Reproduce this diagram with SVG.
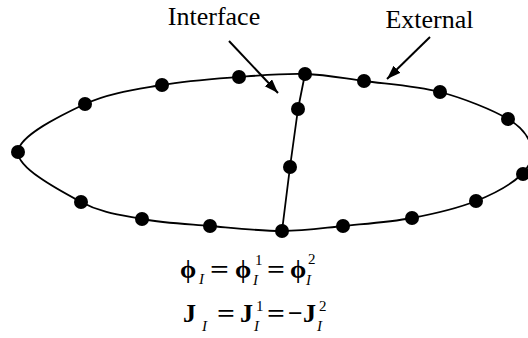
<svg xmlns="http://www.w3.org/2000/svg" width="528" height="338" viewBox="0 0 528 338">
<style>
.line{fill:none;stroke:#000;stroke-width:1.8;stroke-linejoin:round}
.arr{fill:none;stroke:#000;stroke-width:2}
.dot{fill:#000}
.lbl{font-family:"Liberation Serif","Times New Roman",serif;font-size:26px;fill:#000}
.eq{font-family:"Liberation Serif","DejaVu Serif",serif;font-size:26px;font-weight:bold;fill:#000}
.ph{font-size:26px}
.sm{font-size:15px;font-weight:normal}
.it{font-style:italic}
</style>
<defs>
<marker id="ah" markerUnits="userSpaceOnUse" markerWidth="16" markerHeight="12" refX="14" refY="5" orient="auto">
<path d="M0,0 L14,5 L0,10 Z" fill="#000"/>
</marker>
</defs>
<rect width="528" height="338" fill="#fff"/>
<g id="connectors">
<path id="boundary" class="line" d="M18,152 C18.7,135.7 61,115.2 85,104 C109,92.8 136.3,89.5 162,85 C187.7,80.5 215.2,78.8 239,77 C262.8,75.2 284.2,73.3 305,74 C325.8,74.7 341.5,78 364,81 C386.5,84 416,85.7 440,92 C464,98.3 492.8,110 508,119 C523.2,128 528.7,136.8 531,146 C533.3,155.2 531.2,164.8 522,174 C512.8,183.2 494.3,193.7 476,201 C457.7,208.3 434.2,213.8 412,218 C389.8,222.2 364.7,223.8 343,226 C321.3,228.2 304.2,231 282,231 C259.8,231 233.3,228 210,226 C186.7,224 163.5,223 142,219 C120.5,215 101.7,213.2 81,202 C60.3,190.8 17.3,168.3 18,152 Z"/>
<polyline id="interface" class="line" points="305,74 298,109 290,167 282,231"/>
<line class="arr" x1="229" y1="41" x2="278" y2="93" marker-end="url(#ah)"/>
<line class="arr" x1="430" y1="37" x2="387" y2="79" marker-end="url(#ah)"/>
</g>
<g id="nodes">
<circle id="n0" class="dot" cx="18" cy="152" r="7"/>
<circle id="n1" class="dot" cx="85" cy="104" r="7"/>
<circle id="n2" class="dot" cx="162" cy="85" r="7"/>
<circle id="n3" class="dot" cx="239" cy="77" r="7"/>
<circle id="n4" class="dot" cx="305" cy="74" r="7"/>
<circle id="n5" class="dot" cx="364" cy="81" r="7"/>
<circle id="n6" class="dot" cx="440" cy="92" r="7"/>
<circle id="n7" class="dot" cx="508" cy="119" r="7"/>
<circle id="n8" class="dot" cx="523" cy="174" r="7"/>
<circle id="n9" class="dot" cx="476" cy="201" r="7"/>
<circle id="n10" class="dot" cx="412" cy="218" r="7"/>
<circle id="n11" class="dot" cx="343" cy="226" r="7"/>
<circle id="n12" class="dot" cx="282" cy="231" r="7"/>
<circle id="n13" class="dot" cx="210" cy="226" r="7"/>
<circle id="n14" class="dot" cx="142" cy="219" r="7"/>
<circle id="n15" class="dot" cx="81" cy="202" r="7"/>
<circle id="n16" class="dot" cx="298" cy="109" r="7"/>
<circle id="n17" class="dot" cx="290" cy="167" r="7"/>
</g>
<g id="labels">
<text class="lbl" x="214" y="25" text-anchor="middle">Interface</text>
<text class="lbl" x="429.5" y="28" text-anchor="middle">External</text>
</g>
<g id="equations">
<text class="eq ph" x="180" y="278">ϕ</text>
<text class="eq sm it" x="199" y="284">I</text>
<text class="eq" x="210" y="278" textLength="19" lengthAdjust="spacingAndGlyphs">=</text>
<text class="eq ph" x="235" y="278">ϕ</text>
<text class="eq sm" x="255" y="265">1</text>
<text class="eq sm it" x="253" y="285">I</text>
<text class="eq" x="267" y="278" textLength="18" lengthAdjust="spacingAndGlyphs">=</text>
<text class="eq ph" x="290" y="278">ϕ</text>
<text class="eq sm" x="308" y="264">2</text>
<text class="eq sm it" x="306" y="285">I</text>
<text class="eq" x="183" y="322">J</text>
<text class="eq sm it" x="202" y="331">I</text>
<text class="eq" x="217" y="322" textLength="18" lengthAdjust="spacingAndGlyphs">=</text>
<text class="eq" x="240" y="322">J</text>
<text class="eq sm" x="256" y="311">1</text>
<text class="eq sm it" x="254" y="331">I</text>
<text class="eq" x="267" y="322" textLength="18" lengthAdjust="spacingAndGlyphs">=</text>
<text class="eq" x="288" y="322">−</text>
<text class="eq" x="303" y="322">J</text>
<text class="eq sm" x="319" y="311">2</text>
<text class="eq sm it" x="317" y="331">I</text>
</g>
</svg>
